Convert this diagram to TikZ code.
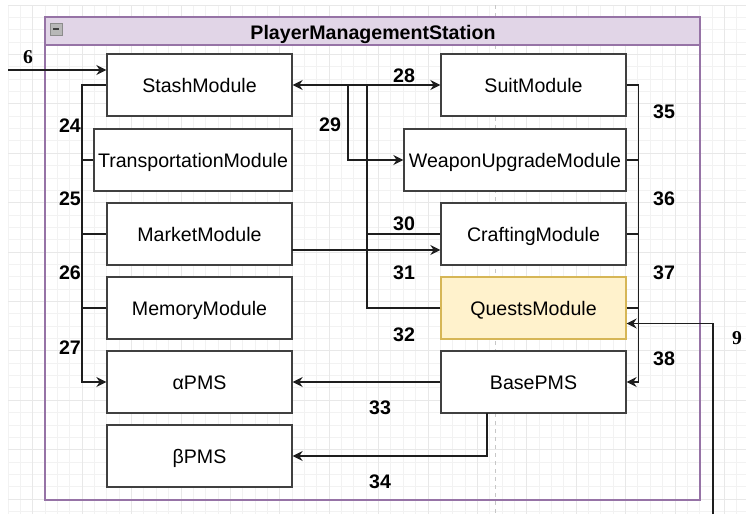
\documentclass[tikz,border=0pt]{standalone}
\usepackage{fontspec}
\setmainfont{Liberation Sans}
\newfontfamily\timesnum{Liberation Serif}
\usetikzlibrary{arrows.meta}
\definecolor{pmsline}{HTML}{9673A6}
\definecolor{pmsfill}{HTML}{E1D5E7}
\definecolor{questfill}{HTML}{FFF2CC}
\definecolor{questline}{HTML}{D6B656}
\definecolor{edgecol}{HTML}{1E1E1E}

\begin{document}
\begin{tikzpicture}[x=0.75pt,y=-0.75pt,
    modbox/.style={draw=edgecol!85,line width=1pt,fill=white,inner sep=0pt,
      minimum width=138.75pt,minimum height=46.5pt,
      font=\fontsize{14.7}{17}\selectfont,text height=10.5pt,text depth=0pt},
    boldtxt/.style={font=\fontsize{14.7}{17}\selectfont\bfseries,inner sep=0pt,
      text height=10.5pt,text depth=0pt},
    extnum/.style={font=\fontsize{14.7}{17}\selectfont\timesnum\bfseries,inner sep=0pt,
      text height=10pt,text depth=0pt},
    conn/.style={draw=edgecol,line width=1pt},
    arr/.style={conn,-{Stealth[length=7.5pt,width=7.5pt,inset=2.5pt]}},
    gridmin/.style={draw=black!5,line width=0.6pt},
    gridmaj/.style={draw=black!9,line width=0.6pt}]
  \useasboundingbox (0,0) rectangle (746,514);

  % background grid
  \foreach \i in {0,...,59}
    \draw[gridmin] ({8+12.35*\i},5) -- ({8+12.35*\i},514);
  \foreach \j in {0,...,41}
    \draw[gridmin] (8,{5+12.35*\j}) -- (746,{5+12.35*\j});
  \foreach \i in {2,6,...,58}
    \draw[gridmaj] ({8+12.35*\i},5) -- ({8+12.35*\i},514);
  \foreach \j in {0,4,...,40}
    \draw[gridmaj] (8,{5+12.35*\j}) -- (746,{5+12.35*\j});
  \draw[black!22,dashed,line width=0.6pt] (495,5) -- (495,514);

  % container
  \draw[pmsline,line width=1pt] (45,17) rectangle (700,500);
  \filldraw[fill=pmsfill,draw=pmsline,line width=1pt] (45,17) rectangle (700,45);
  \filldraw[fill=black!28,draw=black!45,line width=0.6pt] (50,23) rectangle (62,35);
  \draw[black!75,line width=1.2pt] (53,29) -- (59,29);
  \node[boldtxt] (title) at (373,32) {PlayerManagementStation};

  \node[modbox] (stash) at (199.5,85) {StashModule};
  \node[modbox,minimum width=148.5pt] (trans) at (193,160) {TransportationModule};
  \node[modbox] (market) at (199.5,234) {MarketModule};
  \node[modbox] (memory) at (199.5,308) {MemoryModule};
  \node[modbox] (apms) at (199.5,382) {αPMS};
  \node[modbox] (bpms) at (199.5,456) {βPMS};
  \node[modbox] (suit) at (533.5,85) {SuitModule};
  \node[modbox,minimum width=166.5pt] (weapon) at (515,160) {WeaponUpgradeModule};
  \node[modbox] (craft) at (533.5,234) {CraftingModule};
  \node[modbox,fill=questfill,draw=questline] (quest) at (533.5,308) {QuestsModule};
  \node[modbox] (base) at (533.5,382) {BasePMS};

  \coordinate (in6) at (8,70);
  \coordinate (lbus) at (82,0);
  \coordinate (rbus) at (638.5,0);
  \coordinate (j29) at (348,85);
  \coordinate (j28) at (367,85);
  \coordinate (mk) at (292,250);
  \coordinate (b34) at (487,413);
  \coordinate (in9) at (713,514);
  \coordinate (k9) at (713,323.5);

  \draw[arr] (in6) -- (in6 -| stash.west);
  \draw[arr] (stash.west) -- (stash.west -| lbus) |- (apms.west);
  \foreach \b in {trans,market,memory}
    \draw[conn] (\b.west) -- (\b.west -| lbus);
  \draw[arr] (quest.west) -| (j28) -- (stash.east);
  \draw[arr] (j28) -- (suit.west);
  \draw[arr] (j29) |- (weapon.west);
  \draw[conn] (craft.west) -- (craft.west -| j28);
  \draw[arr] (mk) -- (mk -| craft.west);
  \draw[arr] (suit.east) -- (suit.east -| rbus) |- (base.east);
  \foreach \b in {weapon,craft,quest}
    \draw[conn] (\b.east) -- (\b.east -| rbus);
  \draw[arr] (base.west) -- (apms.east);
  \draw[arr] (b34) |- (bpms.east);
  \draw[arr] (in9) -- (k9) -- (k9 -| quest.east);

  \node[extnum] (l6) at (28,57) {6};
  \node[extnum] (l9) at (737,338) {9};
  \foreach \n/\x/\y in {24/70/125,25/70/198,26/70/272,27/70/347,
      28/404/75,29/330/124,30/404/223,31/404/272,32/404/334,
      33/380/407,34/380/481,35/664/111,36/664/198,37/664/272,38/664/358}
    \node[boldtxt] (l\n) at (\x,\y) {\n};
\end{tikzpicture}
\end{document}
